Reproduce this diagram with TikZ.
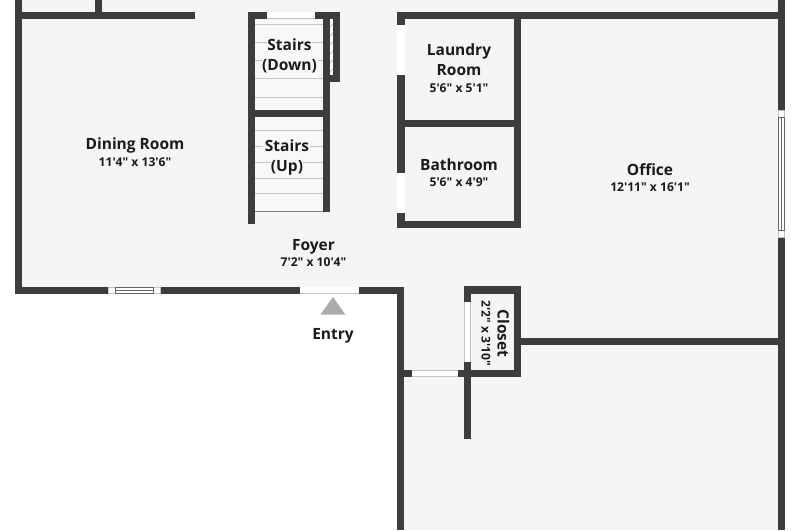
\documentclass[tikz,border=0pt]{standalone}
\usepackage{fontspec}
\newfontfamily\labfont{Open Sans}
\definecolor{floorc}{HTML}{F5F5F5}
\definecolor{stairc}{HTML}{F8F8F8}
\definecolor{wallc}{HTML}{3D3D3D}
\definecolor{treadc}{HTML}{C4C4C4}
\definecolor{entryc}{HTML}{ABABAB}
\definecolor{inkc}{HTML}{1A1A1A}
\tikzset{
  wall/.style={fill=wallc,draw=none},
  gap/.style={fill=white,draw=none},
  doorline/.style={draw=treadc,line width=0.6pt},
  winline/.style={draw=black!60,line width=0.6pt},
  tread/.style={draw=treadc,line width=0.9pt},
  room/.style={font=\labfont\bfseries\fontsize{15.5}{20}\selectfont,text=inkc,align=center,inner sep=0pt},
  dims/.style={font=\labfont\bfseries\fontsize{12.1}{14}\selectfont,text=inkc,align=center,inner sep=0pt}
}
\begin{document}
\begin{tikzpicture}[x=1pt,y=-1pt]
\useasboundingbox (0,0) rectangle (800,530);
\fill[white] (0,0) rectangle (800,530);
% floor
\fill[floorc] (15,0) -- (785,0) -- (785,530) -- (397,530) -- (397,294) -- (15,294) -- cycle;
% stairs interior
\fill[stairc] (255,19) rectangle (323,110);
\fill[stairc] (255,117) rectangle (323,212);
\foreach \y in {24,78,97,130,178,193} \draw[tread] (255,\y) -- (323,\y);
\draw[tread] (255,42) -- (267,42) (312,42) -- (323,42);
\draw[tread] (255,60) -- (262,60) (318,60) -- (323,60);
\draw[tread] (255,146) -- (263,146) (310,146) -- (323,146);
\draw[tread] (255,162) -- (271,162) (303,162) -- (323,162);
\draw[draw=gray,line width=0.8pt] (255,211.5) -- (323,211.5);
% dining walls
\fill[wall] (15,0) rectangle (22,294);
\fill[wall] (15,12) rectangle (195,19);
\fill[wall] (95,0) rectangle (102,12);
\fill[wall] (15,287) rectangle (404,294);
% stairs walls
\fill[wall] (248,12) rectangle (255,224);
\fill[wall] (323,12) rectangle (330,212);
\fill[wall] (248,110) rectangle (330,117);
\fill[wall] (248,12) rectangle (340,19);
\fill[wall] (333,12) rectangle (340,82);
\fill[wall] (323,75) rectangle (340,82);
\fill[gap] (330,19) rectangle (333,75);
\foreach \y in {24,33,42,51,60,69} \draw[draw=gray!70,line width=0.5pt] (330,\y+3) -- (333,\y);
\fill[gap] (267,12) rectangle (315,19);
\draw[doorline] (267,18.7) -- (315,18.7);
% laundry and bathroom
\fill[wall] (397,12) rectangle (785,19);
\fill[wall] (397,12) rectangle (404.5,228);
\fill[wall] (514,12) rectangle (521,228);
\fill[wall] (397,119.5) rectangle (521,126.5);
\fill[wall] (397,220.5) rectangle (521,228);
\fill[gap] (397,25) rectangle (404.5,75);
\fill[gap] (397,173) rectangle (404.5,213);
% right wall
\fill[wall] (778,0) rectangle (785,530);
\fill[gap] (778,110) rectangle (785,237.5);
\draw[doorline] (778.3,110) rectangle (784.7,237.5);
\draw[winline] (778.3,117) rectangle (784.7,230.5);
\draw[winline] (781.3,117) -- (781.3,230.5);
% lower walls
\fill[wall] (397,287) rectangle (404,530);
\fill[wall] (397,369.5) rectangle (521,376.5);
\fill[wall] (463.5,286) rectangle (521,293.5);
\fill[wall] (463.5,286) rectangle (470.5,439);
\fill[wall] (514,286) rectangle (521,376.5);
\fill[wall] (514,338) rectangle (785,345);
\fill[gap] (411.5,369.5) rectangle (458,376.5);
\draw[doorline] (411.5,369.8) -- (458,369.8) (411.5,376.2) -- (458,376.2);
\fill[gap] (463.5,302) rectangle (470.5,361.5);
\draw[doorline] (463.8,302) -- (463.8,361.5) (470.2,302) -- (470.2,361.5);
% dining window and entry door
\fill[gap] (108,287) rectangle (161,294);
\draw[doorline] (108.3,287.3) rectangle (160.7,293.7);
\draw[winline] (115,287.5) rectangle (153.5,293.5);
\draw[winline] (115,290.5) -- (153.5,290.5);
\fill[gap] (299.5,287) rectangle (358.5,294);
\draw[doorline] (299.5,293.7) -- (358.5,293.7);
\fill[entryc] (333,297) -- (345.3,314.5) -- (320.5,314.5) -- cycle;
% labels
\node[room] (dining) at (135,145.5) {Dining Room};
\node[dims] (diningd) at (135,162) {11'4" x 13'6"};
\node[room] (stairsdown) at (289.5,55.5) {Stairs\\(Down)};
\node[room] (stairsup) at (287,157) {Stairs\\(Up)};
\node[room] (laundry) at (459,59.8) {Laundry\\Room};
\node[dims] (laundryd) at (459,88) {5'6" x 5'1"};
\node[room] (bath) at (459,164.5) {Bathroom};
\node[dims] (bathd) at (459,182.5) {5'6" x 4'9"};
\node[room] (office) at (650,170) {Office};
\node[dims] (officed) at (650,187) {12'11" x 16'1"};
\node[room] (foyer) at (313.5,246.5) {Foyer};
\node[dims] (foyerd) at (313.5,262.5) {7'2" x 10'4"};
\node[room] (entry) at (333,336) {Entry};
\node[room,rotate=-90] (closet) at (503.5,333.5) {Closet};
\node[dims,rotate=-90] (closetd) at (486,333) {2'2" x 3'10"};
\end{tikzpicture}
\end{document}
